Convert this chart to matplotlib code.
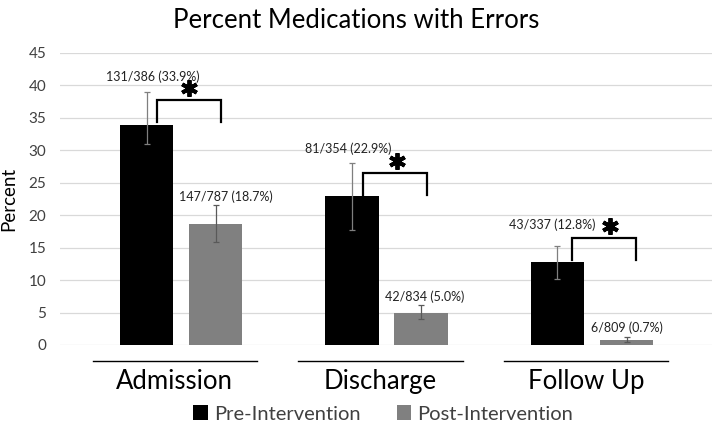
import matplotlib
matplotlib.use("Agg")
import matplotlib.pyplot as plt
import numpy as np

plt.rcParams['font.family'] = ['Lato', 'DejaVu Sans']

categories = ["Admission", "Discharge", "Follow Up"]
series_names = ["Pre-Intervention", "Post-Intervention"]
pre_values = [33.9, 22.9, 12.8]
post_values = [18.7, 5.0, 0.7]
pre_err_low = [31.0, 17.7, 10.2]
pre_err_high = [39.0, 28.0, 15.3]
post_err_low = [15.9, 4.0, 0.4]
post_err_high = [21.6, 6.2, 1.2]
pre_labels = ["131/386 (33.9%)", "81/354 (22.9%)", "43/337 (12.8%)"]
post_labels = ["147/787 (18.7%)", "42/834 (5.0%)", "6/809 (0.7%)"]
yticks = [0, 5, 10, 15, 20, 25, 30, 35, 40, 45]

# annotation positions (layout, not data)
pre_label_y = [41.4, 30.3, 18.5]
post_label_y = [22.8, 7.4, 2.6]
pre_label_dx = [0.03, -0.02, -0.025]
post_label_dx = [0.05, 0.02, 0.0]
bracket_top = [37.7, 26.5, 16.5]
bracket_bottom = [34.4, 23.1, 13.1]
bracket_left_dx = [-0.117, -0.114, -0.097]
bracket_right_dx = [0.195, 0.197, 0.214]
star_dx = [0.04, 0.05, 0.09]

fig = plt.figure(figsize=(7.14, 4.29), dpi=100)
ax = fig.add_axes([60/714, 1-345/429, (712-60)/714, (345-53)/429])

x = np.arange(len(categories))
off = 0.168
w = 0.262
pre_col = "#000000"
post_col = "#808080"

pe = [np.array(pre_values) - np.array(pre_err_low), np.array(pre_err_high) - np.array(pre_values)]
qe = [np.array(post_values) - np.array(post_err_low), np.array(post_err_high) - np.array(post_values)]
ax.bar(x - off, pre_values, w, color=pre_col, label=series_names[0], zorder=2)
ax.bar(x + off, post_values, w, color=post_col, label=series_names[1], zorder=2)
ax.errorbar(x - off, pre_values, yerr=pe, fmt='none', ecolor='#7f7f7f', elinewidth=0.9, capsize=2.5, capthick=0.9, zorder=3)
ax.errorbar(x + off, post_values, yerr=qe, fmt='none', ecolor='#595959', elinewidth=0.9, capsize=2.5, capthick=0.9, zorder=3)

for i in range(len(categories)):
    ax.text(x[i] - off + pre_label_dx[i], pre_label_y[i], pre_labels[i], ha='center', va='center', fontsize=9, color='#222222')
    ax.text(x[i] + off + post_label_dx[i], post_label_y[i], post_labels[i], ha='center', va='center', fontsize=9, color='#222222')
    xl = x[i] + bracket_left_dx[i]
    xr = x[i] + bracket_right_dx[i]
    ax.plot([xl, xl, xr, xr], [bracket_bottom[i], bracket_top[i], bracket_top[i], bracket_bottom[i]],
            color='black', lw=1.6, zorder=4, solid_joinstyle='miter')
    ax.plot([x[i] + star_dx[i]], [bracket_top[i] + 1.9], marker=(6, 2, 0), markersize=12,
            markeredgewidth=2.8, color='black', zorder=5, clip_on=False)
    # category underline
    ax.plot([x[i] - 0.43, x[i] + 0.37], [-2.47, -2.47], color='black', lw=1.0, clip_on=False)

ax.set_xlim(-0.589, 2.584)
ax.set_ylim(0, 45)
ax.set_yticks(yticks)
ax.set_yticklabels([str(t) for t in yticks], fontsize=11, color='#404040')
ax.set_xticks(x - 0.03)
ax.set_xticklabels(categories, fontsize=18.5, color='black')
ax.tick_params(axis='x', length=0, pad=17)
ax.tick_params(axis='y', length=0, pad=10)
ax.grid(axis='y', color='#d9d9d9', lw=0.9, zorder=0)
ax.set_axisbelow(True)
for s in ax.spines.values():
    s.set_visible(False)
ax.set_ylabel("Percent", fontsize=13.5, labelpad=2)
ax.yaxis.set_label_coords(-0.066, 0.5)

fig.text(356/714, 1-20/429, "Percent Medications with Errors", ha='center', va='center', fontsize=18.5)

fig.legend(loc='center', bbox_to_anchor=(383/714, 1-414/429), ncol=2, frameon=False,
           fontsize=14.5, handlelength=0.7, handleheight=0.7, handletextpad=0.3, columnspacing=1.8,
           labelcolor='#404040')

fig.savefig("out.png", dpi=100)
